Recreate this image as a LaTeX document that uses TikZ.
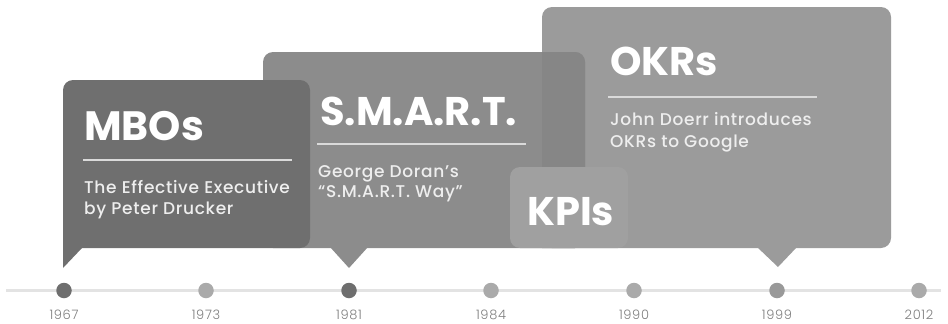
\documentclass[tikz,border=0pt]{standalone}
\usepackage{fontspec}
\setmainfont{Poppins}
\newfontfamily\headfont{Poppins Bold}
\newfontfamily\subfont{Poppins Medium}[LetterSpace=4]
\newfontfamily\yearfont{Poppins Light}[LetterSpace=5]

\definecolor{mbofill}{HTML}{6F6F6F}
\definecolor{smartfill}{HTML}{8C8C8C}
\definecolor{okrfill}{HTML}{9B9B9B}
\definecolor{overlapfill}{HTML}{868686}
\definecolor{kpifill}{HTML}{A0A0A0}
\definecolor{rulecol}{HTML}{DADADA}
\definecolor{linecol}{HTML}{E3E3E3}
\definecolor{dotdark}{HTML}{6E6E6E}
\definecolor{dotmid}{HTML}{999999}
\definecolor{dotlight}{HTML}{AAAAAA}
\definecolor{yearcol}{HTML}{7E7E7E}
\definecolor{subcol}{HTML}{EEEEEE}

\begin{document}
\begin{tikzpicture}[x=1pt,y=-1pt,
  boxcorner/.style={rounded corners=10pt},
  headtext/.style={anchor=base west, inner sep=0pt, text=white,
    font=\headfont\fontsize{40}{40}\selectfont},
  subtext/.style={anchor=base west, inner sep=0pt, text=subcol,
    font=\subfont\fontsize{17}{20}\selectfont},
  rulestyle/.style={draw=rulecol, line width=2pt},
  timeline/.style={draw=linecol, line width=2.5pt},
  yeardot/.style={circle, inner sep=0pt, minimum size=15.5pt},
  yearlabel/.style={anchor=base, inner sep=0pt, text=yearcol,
    font=\yearfont\fontsize{13}{15}\selectfont}]
\useasboundingbox (0,0) rectangle (948,324);

% ---- OKR bubble (back) ----
\fill[okrfill, boxcorner] (542,7) rectangle (891,248);
\fill[okrfill] (757,247) -- (797,247) -- (778,267) -- cycle;

% ---- S.M.A.R.T. bubble ----
\fill[smartfill, boxcorner] (263,52) rectangle (585,248);
\fill[smartfill] (330,247) -- (368,247) -- (349,268) -- cycle;
% region where the two bubbles overlap
\begin{scope}
  \clip (542,0) rectangle (600,260);
  \fill[overlapfill, boxcorner] (263,52) rectangle (585,248);
\end{scope}

% ---- KPI tile ----
\fill[kpifill, boxcorner] (510,167) rectangle (628,248);

% ---- MBO bubble (front) ----
\fill[mbofill, boxcorner] (63,80) rectangle (310,248);
\fill[mbofill] (63,235) -- (82,235) -- (82,248) -- (63,268) -- cycle;

% ---- texts ----
\node[headtext, font=\headfont\fontsize{41}{41}\selectfont] (mbo) at (84,140) {MBOs};
\draw[rulestyle] (83,160) -- (292,160);
\node[subtext] (mbo1) at (84,193) {The Effective Executive};
\node[subtext] (mbo2) at (84,214) {by Peter Drucker};

\node[headtext] (smart) at (320,125) {S.M.A.R.T.};
\draw[rulestyle] (317,144) -- (526,144);
\node[subtext] (smart1) at (318,177) {George Doran’s};
\node[subtext] (smart2) at (318,197) {“S.M.A.R.T. Way”};

\node[headtext] (kpi) at (527,225) {KPIs};

\node[headtext] (okr) at (610,75) {OKRs};
\draw[rulestyle] (608,97) -- (817,97);
\node[subtext] (okr1) at (610,125) {John Doerr introduces};
\node[subtext] (okr2) at (610,147) {OKRs to Google};

% ---- timeline ----
\coordinate (tlstart) at (6,290.5);
\coordinate (tlend) at (941,290.5);
\draw[timeline] (tlstart) -- (tlend);

\foreach \xx/\yr/\col in {64/1967/dotdark, 206/1973/dotlight, 349/1981/dotdark,
    491/1984/dotlight, 634/1990/dotlight, 777/1999/dotmid, 919/2012/dotlight} {
  \node[yeardot, fill=\col] (d\yr) at (\xx,290.5) {};
  \node[yearlabel] (y\yr) at (\xx,319) {\yr};
}
\end{tikzpicture}
\end{document}
